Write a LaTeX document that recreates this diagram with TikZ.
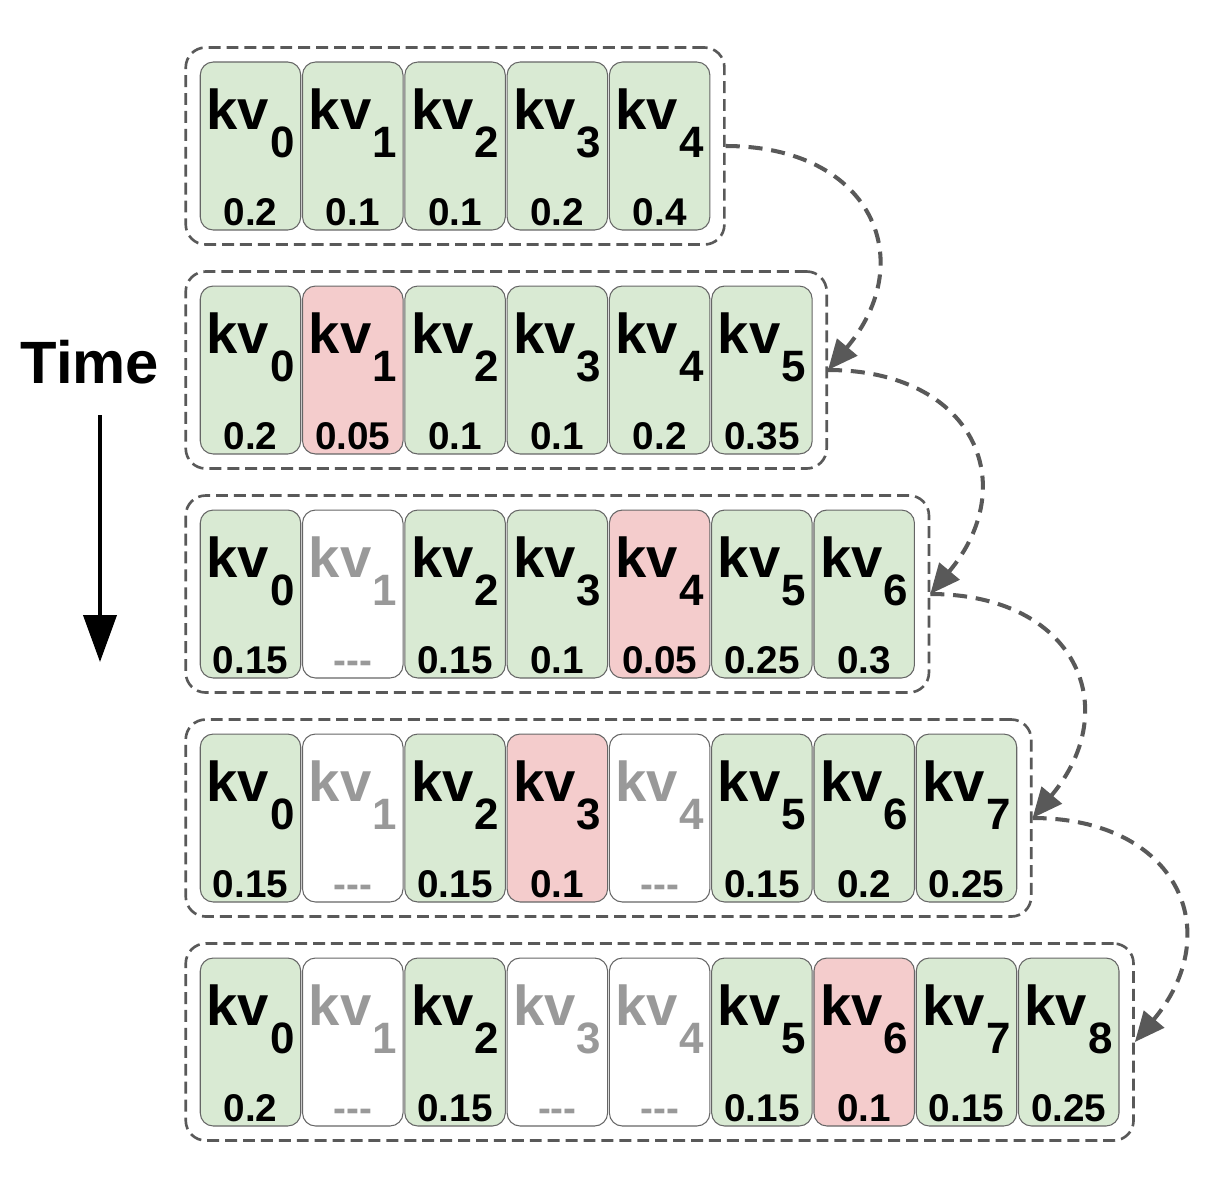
\documentclass[tikz,border=0pt]{standalone}
\usepackage{fontspec}
\setmainfont{Liberation Sans}
\usetikzlibrary{arrows.meta,positioning,fit}
\definecolor{kvgreen}{HTML}{D9EAD3}
\definecolor{kvred}{HTML}{F4CCCC}
\definecolor{kvedge}{HTML}{666666}
\definecolor{kvgone}{HTML}{999999}
\definecolor{kvdash}{HTML}{595959}
\newcommand{\kv}[1]{kv\kern0.02em\raisebox{-0.56cm}{\fontsize{25}{25}\selectfont #1}}
\newcommand{\kvgap}{0.015cm}
\tikzset{
  cellbox/.style={draw=kvedge, line width=0.6pt, rounded corners=0.26cm, minimum width=2.01cm, minimum height=3.36cm, inner sep=0pt, text height=1.34cm, text depth=2.02cm, font=\fontsize{32}{32}\selectfont\bfseries},
  keep/.style={cellbox, fill=kvgreen},
  evict/.style={cellbox, fill=kvred},
  gone/.style={cellbox, fill=white, text=kvgone},
  val/.style={anchor=base, yshift=0.1cm, inner sep=0pt, text height={}, text depth={}, text=black, font=\fontsize{22}{22}\selectfont\bfseries},
  valgone/.style={val, text=kvgone},
  frame/.style={draw=kvdash, line width=1.5pt, dash pattern=on 6.8pt off 3.4pt, rounded corners=0.4cm, inner sep=0.28cm},
  hop/.style={draw=kvdash, line width=2.3pt, dash pattern=on 8pt off 5pt, -{Triangle[length=0.6cm,width=0.52cm]}},
  timetext/.style={font=\fontsize{34}{34}\selectfont\bfseries, inner sep=0pt, anchor=base},
  timearrow/.style={line width=2.3pt, -{Triangle[length=0.94cm,width=0.66cm]}},
}

\begin{document}
\begin{tikzpicture}[x=0.02cm, y=0.02cm]
  \useasboundingbox (0,0) rectangle (1210,-1178);
  % Time axis
  \node[timetext] (time) at (90,-383) {Time};
  \coordinate (t-top) at (100,-415);
  \coordinate (t-bot) at (100,-662);
  \draw[timearrow] (t-top) -- (t-bot);
  % Step 0
  \node[keep, label={[val]south:0.2}] (c00) at (250.5,-146) {\kv{0}};
  \node[keep, label={[val]south:0.1}, right=\kvgap of c00] (c01) {\kv{1}};
  \node[keep, label={[val]south:0.1}, right=\kvgap of c01] (c02) {\kv{2}};
  \node[keep, label={[val]south:0.2}, right=\kvgap of c02] (c03) {\kv{3}};
  \node[keep, label={[val]south:0.4}, right=\kvgap of c03] (c04) {\kv{4}};
  \node[frame, fit=(c00)(c04)] (f0) {};
  % Step 1
  \node[keep, label={[val]south:0.2}] (c10) at (250.5,-370) {\kv{0}};
  \node[evict, label={[val]south:0.05}, right=\kvgap of c10] (c11) {\kv{1}};
  \node[keep, label={[val]south:0.1}, right=\kvgap of c11] (c12) {\kv{2}};
  \node[keep, label={[val]south:0.1}, right=\kvgap of c12] (c13) {\kv{3}};
  \node[keep, label={[val]south:0.2}, right=\kvgap of c13] (c14) {\kv{4}};
  \node[keep, label={[val]south:0.35}, right=\kvgap of c14] (c15) {\kv{5}};
  \node[frame, fit=(c10)(c15)] (f1) {};
  % Step 2
  \node[keep, label={[val]south:0.15}] (c20) at (250.5,-594) {\kv{0}};
  \node[gone, label={[valgone]south:{-}{-}{-}}, right=\kvgap of c20] (c21) {\kv{1}};
  \node[keep, label={[val]south:0.15}, right=\kvgap of c21] (c22) {\kv{2}};
  \node[keep, label={[val]south:0.1}, right=\kvgap of c22] (c23) {\kv{3}};
  \node[evict, label={[val]south:0.05}, right=\kvgap of c23] (c24) {\kv{4}};
  \node[keep, label={[val]south:0.25}, right=\kvgap of c24] (c25) {\kv{5}};
  \node[keep, label={[val]south:0.3}, right=\kvgap of c25] (c26) {\kv{6}};
  \node[frame, fit=(c20)(c26)] (f2) {};
  % Step 3
  \node[keep, label={[val]south:0.15}] (c30) at (250.5,-818) {\kv{0}};
  \node[gone, label={[valgone]south:{-}{-}{-}}, right=\kvgap of c30] (c31) {\kv{1}};
  \node[keep, label={[val]south:0.15}, right=\kvgap of c31] (c32) {\kv{2}};
  \node[evict, label={[val]south:0.1}, right=\kvgap of c32] (c33) {\kv{3}};
  \node[gone, label={[valgone]south:{-}{-}{-}}, right=\kvgap of c33] (c34) {\kv{4}};
  \node[keep, label={[val]south:0.15}, right=\kvgap of c34] (c35) {\kv{5}};
  \node[keep, label={[val]south:0.2}, right=\kvgap of c35] (c36) {\kv{6}};
  \node[keep, label={[val]south:0.25}, right=\kvgap of c36] (c37) {\kv{7}};
  \node[frame, fit=(c30)(c37)] (f3) {};
  % Step 4
  \node[keep, label={[val]south:0.2}] (c40) at (250.5,-1042) {\kv{0}};
  \node[gone, label={[valgone]south:{-}{-}{-}}, right=\kvgap of c40] (c41) {\kv{1}};
  \node[keep, label={[val]south:0.15}, right=\kvgap of c41] (c42) {\kv{2}};
  \node[gone, label={[valgone]south:{-}{-}{-}}, right=\kvgap of c42] (c43) {\kv{3}};
  \node[gone, label={[valgone]south:{-}{-}{-}}, right=\kvgap of c43] (c44) {\kv{4}};
  \node[keep, label={[val]south:0.15}, right=\kvgap of c44] (c45) {\kv{5}};
  \node[evict, label={[val]south:0.1}, right=\kvgap of c45] (c46) {\kv{6}};
  \node[keep, label={[val]south:0.15}, right=\kvgap of c46] (c47) {\kv{7}};
  \node[keep, label={[val]south:0.25}, right=\kvgap of c47] (c48) {\kv{8}};
  \node[frame, fit=(c40)(c48)] (f4) {};
  % Hops between steps
  \draw[hop] (f0.east) to[out=0, in=50, looseness=1.5] (f1.east);
  \draw[hop] (f1.east) to[out=0, in=50, looseness=1.5] (f2.east);
  \draw[hop] (f2.east) to[out=0, in=50, looseness=1.5] (f3.east);
  \draw[hop] (f3.east) to[out=0, in=50, looseness=1.5] (f4.east);
\end{tikzpicture}
\end{document}
